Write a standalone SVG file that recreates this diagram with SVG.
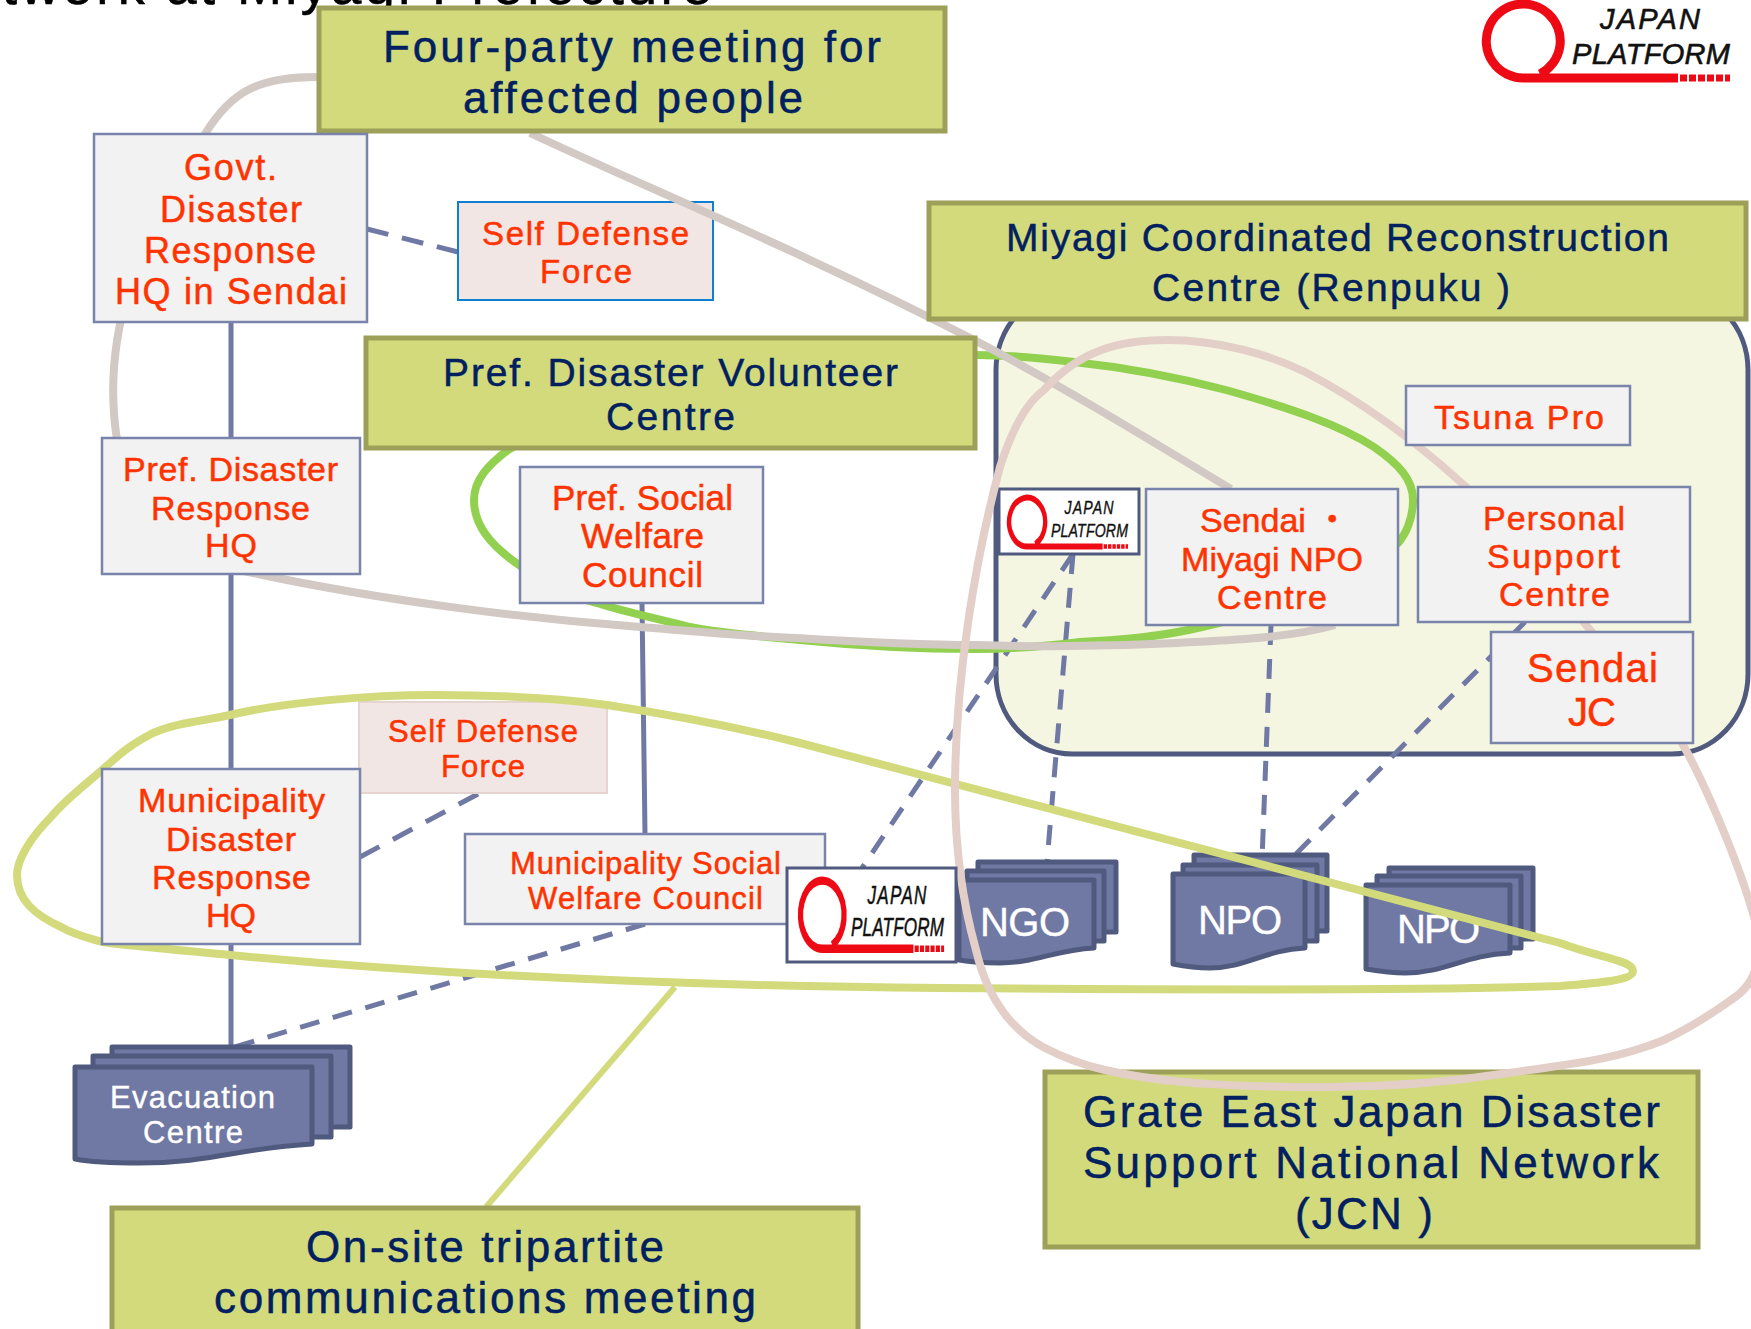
<svg xmlns="http://www.w3.org/2000/svg" xmlns:xlink="http://www.w3.org/1999/xlink" width="1751" height="1329" viewBox="0 0 1751 1329">
<style>
text{font-family:"Liberation Sans","Noto Sans CJK JP",sans-serif}
.olive{fill:#d2da7c;stroke:#9ca058;stroke-width:5}
.box{fill:#f2f2f2;stroke:#7a84ab;stroke-width:2.5}
.navy{fill:#00205f;font-size:44px;stroke:#00205f;stroke-width:.5}
.navy2{fill:#00205f;font-size:39px;stroke:#00205f;stroke-width:.5}
.red{fill:#ff3300;font-size:34px;stroke:#ff3300;stroke-width:.5}
.wh{fill:#fff;font-size:40px;stroke:#fff;stroke-width:.4}
.wh2{fill:#fff;font-size:31px;stroke:#fff;stroke-width:.4}
.solid{fill:none;stroke:#6f79a3;stroke-width:5}
.dash{fill:none;stroke:#6f79a3;stroke-width:5;stroke-dasharray:20 14}
.doc{fill:#6f79a3;stroke:#505a7e;stroke-width:5;stroke-linejoin:round}
.curve{fill:none;stroke-width:8}
.lg{fill:#fff;stroke:#505a7e;stroke-width:3}
</style>
<defs>
<g id="jp">
<path d="M58 74A37 37 0 1 0 41 78H196" fill="none" stroke="#ee0a14" stroke-width="9"/>
<path d="M198 78H248" fill="none" stroke="#ee0a14" stroke-width="7" stroke-dasharray="7 2"/>
<text x="118" y="29" font-size="29" font-style="italic" fill="#111" stroke="#111" stroke-width=".6" textLength="100">JAPAN</text>
<text x="90" y="64" font-size="29" font-style="italic" fill="#111" stroke="#111" stroke-width=".6" textLength="158">PLATFORM</text>
</g>
</defs>
<rect width="1751" height="1329" fill="#fff"/>
<text x="2" y="4" font-size="54" fill="#000" stroke="#000" stroke-width=".6" textLength="710">twork at Miyagi Prefecture</text>
<use id="logo-main" xlink:href="#jp" href="#jp" transform="translate(1482,0)"/>
<g id="renpuku-area"><rect x="996" y="290" width="752" height="464" rx="76" ry="80" fill="#f5f6e2" stroke="#505a7e" stroke-width="5"/></g>
<g id="connectors">
<path class="solid" d="M231 322V438M231 574V769M231 944V1048M642 603L645 834"/>
<path class="dash" style="stroke-dasharray:22 14" d="M367 229L458 252"/>
<path class="dash" style="stroke-dasharray:22 15.3" d="M360 857L478 794"/>
<path class="dash" d="M645 924L231 1048"/>
<path class="dash" d="M1073 554L862 868"/>
<path class="dash" d="M1073 554L1047 862"/>
<path class="dash" d="M1271 625L1262 860"/>
<path class="dash" d="M1525 622L1293 857"/>
</g>
<g id="self-defense-1"><rect x="458" y="202" width="255" height="98" fill="#f2e6e4" stroke="#0f7fcf" stroke-width="2"/>
<text class="red" style="font-size:33px" x="482" y="245" textLength="207">Self Defense</text>
<text class="red" style="font-size:33px" x="540" y="283" textLength="92">Force</text></g>
<g id="self-defense-2"><rect x="359" y="702" width="248" height="91" fill="#f2e6e4" stroke="#e6d4d0" stroke-width="2"/>
<text class="red" style="font-size:31px" x="388" y="742" textLength="190">Self Defense</text>
<text class="red" style="font-size:31px" x="441" y="777" textLength="84">Force</text></g>
<g id="evacuation">
<rect class="doc" x="112" y="1047" width="238" height="80"/><rect class="doc" x="93" y="1056" width="238" height="81"/>
<path class="doc" d="M75 1067H312V1144C240 1148 210 1163 140 1163C110 1163 90 1162 75 1159Z"/>
<text class="wh2" x="110" y="1108" textLength="165">Evacuation</text>
<text class="wh2" x="143" y="1143" textLength="100">Centre</text></g>
<g id="ngo">
<rect class="doc" x="978" y="862" width="138" height="70"/><rect class="doc" x="967" y="871" width="137" height="70"/>
<path class="doc" d="M959 880H1094V948C1055 950 1035 963 1000 963C985 963 970 962 959 960Z"/>
<text class="wh" x="980" y="936" textLength="90">NGO</text></g>
<g id="npo-1">
<rect class="doc" x="1194" y="855" width="133" height="76"/><rect class="doc" x="1183" y="865" width="134" height="76"/>
<path class="doc" d="M1173 874H1305V948C1265 950 1245 968 1210 968C1195 968 1183 966 1173 964Z"/>
<text class="wh" x="1198" y="934" textLength="84">NPO</text></g>
<g id="npo-2">
<rect class="doc" x="1389" y="868" width="144" height="71"/><rect class="doc" x="1377" y="876" width="144" height="72"/>
<path class="doc" d="M1366 885H1510V953C1465 955 1445 973 1405 973C1390 973 1378 971 1366 969Z"/>
<text class="wh" x="1397" y="943" textLength="83">NPO</text></g>
<g id="logo-box-small"><rect class="lg" x="999" y="489" width="140" height="65"/>
<use xlink:href="#jp" href="#jp" transform="translate(1007,495) scale(.488,.66)"/></g>
<g id="jcn"><rect class="olive" x="1045" y="1072" width="653" height="175"/>
<text class="navy" x="1083" y="1127" textLength="577">Grate East Japan Disaster</text>
<text class="navy" x="1083" y="1178" textLength="576">Support National Network</text>
<text class="navy" x="1295" y="1229" textLength="138">(JCN )</text></g>
<g id="curves">
<path class="curve" stroke="#92d050" d="M976 355C1010 355 1040 358 1074 362C1130 368 1180 378 1226 390C1290 408 1340 425 1374 447C1400 465 1413 480 1413 500C1413 520 1405 535 1398 543C1340 590 1270 612 1202 627C1160 637 1120 640 1080 642C1040 647 1010 649 976 649C910 649 850 645 800 640C760 636 725 634 690 627C655 618 625 612 597 603C565 595 540 582 519 565C490 545 474 525 474 500C474 480 488 465 508 450L560 420"/>
<path class="curve" stroke="#d2c8c4" d="M317 77C260 77 232 90 205 134C140 240 100 330 117 440C130 530 190 562 258 574C380 600 520 618 640 627C690 631 740 636 797 638C860 642 920 645 976 645C1040 647 1100 647 1177 643C1230 640 1290 638 1335 625"/>
<path class="curve" stroke="#d2c8c4" d="M530 133C640 185 800 250 980 343C1060 385 1150 440 1231 489"/>
<path class="curve" stroke="#d2da7c" d="M434 695C490 695 550 697 607 705C680 716 740 728 800 743L1560 943C1600 958 1633 960 1633 971C1633 980 1600 983 1560 986C1450 990 1200 990 940 988C700 986 460 977 230 955C190 951 140 947 102 942C85 937 75 935 61 927C35 915 17 900 17 875C17 860 30 838 51 817C65 800 85 785 102 770C120 754 128 746 153 733C178 722 205 721 230 715C285 702 370 695 434 695Z"/>
<path class="curve" stroke="#d2da7c" style="stroke-width:6" d="M675 987L486 1207"/>
<path class="curve" stroke="#e3cfc8" d="M1682 743C1700 775 1735 850 1755 920C1765 960 1755 985 1731 1000C1710 1015 1690 1028 1664 1040C1610 1062 1560 1065 1509 1073C1450 1082 1390 1087 1328 1087C1250 1087 1170 1085 1105 1070C1083 1065 1062 1057 1043 1047C1030 1040 1018 1030 1007 1017C990 995 982 975 976 950C962 900 955 850 955 790C955 680 975 560 1000 467C1015 420 1030 400 1044 390C1080 350 1120 340 1167 340C1220 340 1270 355 1305 372C1350 395 1420 440 1490 510C1540 570 1600 640 1682 743"/>
</g>
<g id="four-party"><rect class="olive" x="319" y="8" width="626" height="123"/>
<text class="navy" x="383" y="62" textLength="498">Four-party meeting for</text>
<text class="navy" x="463" y="113" textLength="340">affected people</text></g>
<g id="miyagi"><rect class="olive" x="929" y="203" width="817" height="116"/>
<text class="navy2" x="1006" y="251" textLength="663">Miyagi Coordinated Reconstruction</text>
<text class="navy2" x="1152" y="301" textLength="358">Centre (Renpuku )</text></g>
<g id="pref-volunteer"><rect class="olive" x="366" y="338" width="609" height="110"/>
<text class="navy2" x="443" y="386" textLength="455">Pref. Disaster Volunteer</text>
<text class="navy2" x="606" y="430" textLength="129">Centre</text></g>
<g id="on-site"><rect class="olive" x="112" y="1208" width="746" height="130"/>
<text class="navy" x="306" y="1262" textLength="358">On-site tripartite</text>
<text class="navy" x="214" y="1313" textLength="542">communications meeting</text></g>
<g id="govt-hq"><rect class="box" x="94" y="134" width="273" height="188"/>
<text class="red" style="font-size:36px" x="184" y="180" textLength="93">Govt.</text>
<text class="red" style="font-size:36px" x="160" y="222" textLength="142">Disaster</text>
<text class="red" style="font-size:36px" x="144" y="263" textLength="172">Response</text>
<text class="red" style="font-size:36px" x="115" y="304" textLength="232">HQ in Sendai</text></g>
<g id="pref-hq"><rect class="box" x="102" y="438" width="258" height="136"/>
<text class="red" x="123" y="481" textLength="215">Pref. Disaster</text>
<text class="red" x="151" y="520" textLength="159">Response</text>
<text class="red" x="205" y="557" textLength="52">HQ</text></g>
<g id="pref-social"><rect class="box" x="520" y="467" width="243" height="136"/>
<text class="red" style="font-size:35px" x="552" y="510" textLength="181">Pref. Social</text>
<text class="red" style="font-size:35px" x="581" y="548" textLength="123">Welfare</text>
<text class="red" style="font-size:35px" x="582" y="587" textLength="121">Council</text></g>
<g id="municipality-hq"><rect class="box" x="102" y="769" width="258" height="175"/>
<text class="red" x="138" y="812" textLength="187">Municipality</text>
<text class="red" x="166" y="851" textLength="130">Disaster</text>
<text class="red" x="152" y="889" textLength="159">Response</text>
<text class="red" x="206" y="927" textLength="50">HQ</text></g>
<g id="municipality-social"><rect class="box" x="465" y="834" width="360" height="90"/>
<text class="red" style="font-size:31px" x="510" y="874" textLength="271">Municipality Social</text>
<text class="red" style="font-size:31px" x="528" y="909" textLength="235">Welfare Council</text></g>
<g id="logo-box-large"><rect class="lg" x="787" y="868" width="169" height="94"/>
<use xlink:href="#jp" href="#jp" transform="translate(798,877) scale(.589,.92)"/></g>
<g id="sendai-npo"><rect class="box" x="1146" y="489" width="252" height="136"/>
<text class="red" x="1200" y="532">Sendai ・</text>
<text class="red" x="1181" y="571" textLength="182">Miyagi NPO</text>
<text class="red" x="1217" y="609" textLength="110">Centre</text></g>
<g id="personal"><rect class="box" x="1418" y="487" width="272" height="135"/>
<text class="red" x="1483" y="530" textLength="142">Personal</text>
<text class="red" x="1487" y="568" textLength="133">Support</text>
<text class="red" x="1499" y="606" textLength="111">Centre</text></g>
<g id="tsuna"><rect class="box" x="1406" y="386" width="224" height="59"/>
<text class="red" x="1434" y="429" textLength="170">Tsuna Pro</text></g>
<g id="sendai-jc"><rect class="box" x="1491" y="632" width="202" height="111"/>
<text class="red" style="font-size:40px" x="1527" y="682" textLength="131">Sendai</text>
<text class="red" style="font-size:40px" x="1568" y="726" textLength="48">JC</text></g>
</svg>
